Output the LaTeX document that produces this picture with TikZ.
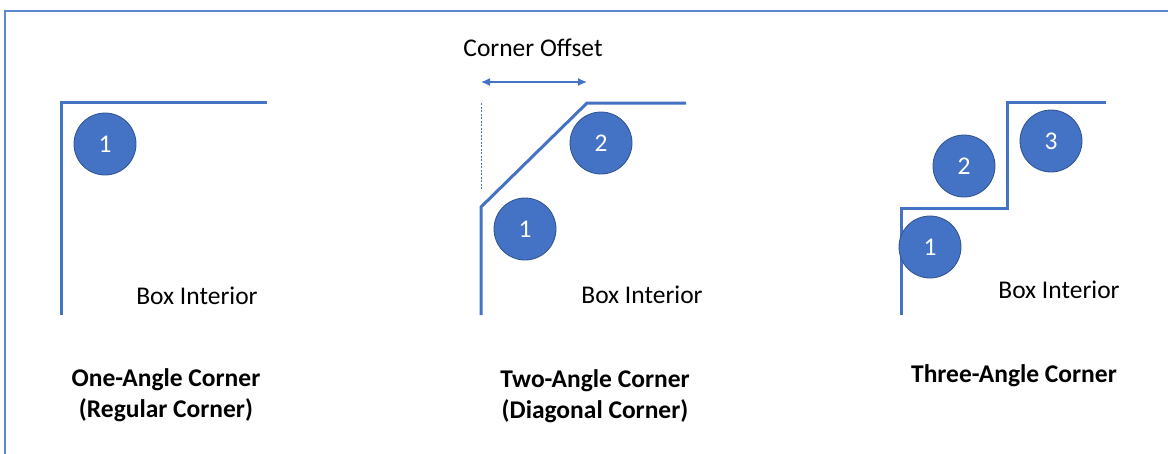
\documentclass[tikz,border=0pt]{standalone}
\usepackage{fontspec}
\setmainfont{Carlito}
\usetikzlibrary{arrows.meta}
\definecolor{accent}{HTML}{4472C4}
\definecolor{accentdark}{HTML}{2F528F}
\definecolor{framecol}{HTML}{5B87CF}
\tikzset{
  cornerline/.style={draw=accent, line width=3pt, line cap=butt, line join=miter},
  badge/.style={circle, fill=accent, draw=accentdark, line width=0.8pt, minimum size=62pt, inner sep=0pt, text=white, font=\fontsize{25.5}{30}\selectfont},
  label/.style={font=\fontsize{25.5}{30}\selectfont, inner sep=0pt},
  title/.style={font=\fontsize{25.5}{31}\selectfont\bfseries, align=center, inner sep=0pt},
}
\begin{document}
\begin{tikzpicture}[x=1pt,y=-1pt]
\useasboundingbox (0,0) rectangle (1168,453);
% frame
\draw[framecol, line width=1.8pt] (5,460) -- (5,11) -- (1175,11);

% left corner
\draw[cornerline] (61,315) -- (61,102) -- (267,102);
\node[badge] (l1) at (105,144) {1};
\node[label] (lbox) at (197,296) {Box Interior};
\node[title] (ltitle) at (166,395) {One-Angle Corner\\(Regular Corner)};

% middle corner
\draw[cornerline] (481,315) -- (481,207) -- (587,103) -- (686,103);
\draw[accent, line width=1pt, dash pattern=on 2pt off 1.5pt] (481,103) -- (481,190);
\coordinate (oa) at (481,82);
\coordinate (ob) at (587,82);
\draw[accent, line width=1.3pt, {Latex[length=9pt,width=8pt]}-{Latex[length=9pt,width=8pt]}] (oa) -- (ob);
\node[label] (offset) at (533,48) {Corner Offset};
\node[badge] (m2) at (601,143) {2};
\node[badge] (m1) at (525,229) {1};
\node[label] (mbox) at (642,295) {Box Interior};
\node[title] (mtitle) at (595,396) {Two-Angle Corner\\(Diagonal Corner)};

% right corner
\draw[cornerline] (901,315) -- (901,208) -- (1007,208) -- (1007,102) -- (1106,102);
\node[badge] (r1) at (930,247) {1};
\node[badge] (r2) at (964,166) {2};
\node[badge] (r3) at (1051,141) {3};
\node[label] (rbox) at (1059,290) {Box Interior};
\node[title] (rtitle) at (1014,376) {Three-Angle Corner};
\end{tikzpicture}
\end{document}
